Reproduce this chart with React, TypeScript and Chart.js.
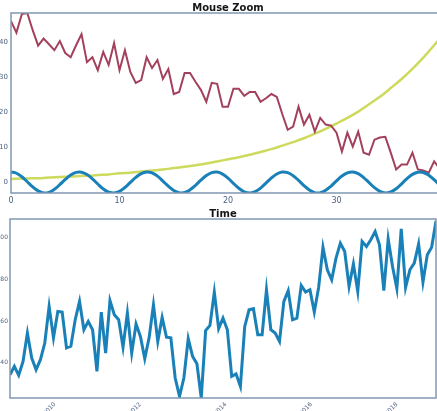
import { useEffect, useRef } from "react";
import { Chart, registerables } from "chart.js";

Chart.register(...registerables);

const TOP_TITLE = "Mouse Zoom";
const BOTTOM_TITLE = "Time";

// Top panel: noisy declining series (x step 0.5)
const RED_STEP = 0.5;
const RED_VALUES = [
  46, 42.7, 48, 48.3, 43.4, 39, 41, 39.4, 37.7, 40.3,
  36.9, 35.7, 39.1, 42.3, 34.3, 35.7, 32, 37.2, 33.5, 39.7,
  32, 37.7, 31.5, 28.4, 29.2, 35.7, 32.6, 34.9, 29.5, 32.3,
  25.2, 25.8, 31.2, 31.2, 28.7, 26.4, 23, 28.4, 28.1, 21.6,
  21.6, 26.7, 26.7, 24.7, 25.8, 25.8, 23, 24, 25.2, 24.4,
  19.5, 15, 15.9, 21.6, 16.5, 19.3, 14.5, 18.4, 16.5, 16.2,
  14.2, 8.8, 14.2, 10.2, 14.5, 8.5, 7.9, 12.2, 12.8, 13,
  8.5, 3.7, 5.1, 5.1, 8.5, 3.7, 3.4, 2.8, 6, 4,
];

// Top panel: rising curve (x step 1)
const YELLOW_STEP = 1;
const YELLOW_VALUES = [
  1.0, 1.1, 1.2, 1.3, 1.5, 1.6, 1.8, 1.9, 2.1, 2.3,
  2.6, 2.8, 3.1, 3.4, 3.7, 4.1, 4.5, 4.9, 5.4, 6.0,
  6.6, 7.2, 7.9, 8.7, 9.5, 10.5, 11.5, 12.6, 13.9, 15.3,
  16.8, 18.4, 20.2, 22.3, 24.4, 26.9, 29.5, 32.4, 35.6, 39.1,
  43,
];

// Top panel: oscillating wave (x step 0.5)
const BLUE_STEP = 0.5;
const BLUE_VALUES = [
  3.0, 2.63, 1.62, 0.21, -1.25, -2.4, -2.97, -2.81, -1.96, -0.63,
  0.85, 2.13, 2.88, 2.93, 2.26, 1.04, -0.44, -1.82, -2.73, -2.99,
  -2.52, -1.43, 0.01, 1.44, 2.53, 2.99, 2.73, 1.81, 0.41, -1.06,
  -2.28, -2.93, -2.87, -2.1, -0.83, 0.65, 1.98, 2.82, 2.97, 2.38,
  1.22, -0.24, -1.65, -2.66, -3.0, -2.59, -1.6, -0.17, 1.27, 2.42,
  2.97, 2.79, 1.94, 0.6, -0.88, -2.15, -2.89, -2.92, -2.24, -1.02,
  0.46, 1.84, 2.74, 2.99, 2.5, 1.4, -0.04, -1.47, -2.54, -2.99,
  -2.71, -1.79, -0.38, 1.09, 2.3, 2.94, 2.86, 2.08, 0.8, -0.68,
  -2.0,
];

const TOP_X_TICKS = [0, 10, 20, 30, 40];
const TOP_Y_TICKS = [0, 10, 20, 30, 40];

// Bottom panel: time series
const TIME_START = 2008.95;
const TIME_STEP = 0.1017;
const TIME_VALUES = [
  34.2, 38.2, 33.9, 40.6, 54.2, 42.2, 36.6, 41.4, 49.4, 67,
  51.9, 64.6, 64.3, 47.1, 47.9, 60.6, 69.4, 55.8, 59.8, 55.8,
  35.8, 64.3, 44.6, 69.8, 63, 60.6, 47.4, 63.8, 44.6, 58.6,
  52.6, 41.9, 51.9, 67.8, 50.2, 61.7, 52.2, 51.9, 32.6, 23.8,
  32.6, 51.5, 43, 39.4, 23, 55.4, 57.9, 73.9, 56.3, 61.4,
  55.8, 33.4, 34.6, 28.6, 57.4, 65.4, 65.9, 53.4, 53.4, 75,
  55.8, 54.2, 50.2, 69.4, 74.6, 60.6, 61.4, 77.1, 73.9, 75,
  64.3, 76.1, 95.4, 84.6, 79.8, 90.2, 97.4, 93.4, 76.6, 87.4,
  74.2, 98.2, 95.8, 99, 103, 96.6, 74.6, 99.4, 86.2, 75.5,
  104.3, 76.1, 84.6, 87.8, 97, 78.7, 91.8, 95.4, 108,
];
const TIME_TICKS = [2010, 2012, 2014, 2016, 2018];
const TIME_TICK_LABELS = ["2010", "2012", "2014", "2016", "2018"];
const TIME_Y_TICKS = [40, 60, 80, 100];

const RED = "#a3405c";
const YELLOW = "#cdda5c";
const BLUE = "#1a80b8";
const SPINE = "#8196b3";
const TICK_TEXT = "#4f6282";
const FONT = "'DejaVu Sans', sans-serif";

const framePlugin = {
  id: "frameTitle",
  afterDatasetsDraw(chart: any, _args: any, opts: any) {
    const { ctx, chartArea: a } = chart;
    ctx.save();
    ctx.strokeStyle = SPINE;
    ctx.lineWidth = 1.5;
    ctx.strokeRect(a.left, a.top, a.right - a.left, a.bottom - a.top);
    ctx.fillStyle = "#151515";
    ctx.font = `bold ${opts.size}px ${FONT}`;
    ctx.textAlign = "center";
    ctx.textBaseline = "alphabetic";
    ctx.fillText(opts.text, (a.left + a.right) / 2, a.top - opts.gap);
    ctx.restore();
  },
};

function topConfig(): any {
  return {
    type: "line",
    data: {
      datasets: [
        {
          data: BLUE_VALUES.map((v, i) => ({ x: i * BLUE_STEP, y: v })),
          borderColor: BLUE,
          borderWidth: 3,
          pointRadius: 0,
          tension: 0.4,
        },
        {
          data: RED_VALUES.map((v, i) => ({ x: i * RED_STEP, y: v })),
          borderColor: RED,
          borderWidth: 2,
          pointRadius: 0,
          tension: 0,
        },
        {
          data: YELLOW_VALUES.map((v, i) => ({ x: i * YELLOW_STEP, y: v })),
          borderColor: YELLOW,
          borderWidth: 2.5,
          pointRadius: 0,
          tension: 0.4,
        },
      ],
    },
    options: {
      animation: false,
      responsive: false,
      devicePixelRatio: 1,
      layout: { padding: { top: 13, right: 15, left: 0, bottom: 0 } },
      plugins: {
        legend: { display: false },
        tooltip: { enabled: false },
        frameTitle: { text: TOP_TITLE, size: 10, gap: 2 },
      },
      scales: {
        x: {
          type: "linear",
          min: 0,
          max: 40,
          afterBuildTicks: (s: any) => {
            s.ticks = TOP_X_TICKS.map((v) => ({ value: v }));
          },
          afterFit: (s: any) => {
            s.height = 17;
          },
          grid: { display: false, drawTicks: false },
          border: { display: false },
          ticks: {
            color: TICK_TEXT,
            font: { family: FONT, size: 8 },
            padding: 3,
            maxRotation: 0,
            minRotation: 0,
          },
        },
        y: {
          type: "linear",
          min: -3,
          max: 48.3,
          afterBuildTicks: (s: any) => {
            s.ticks = TOP_Y_TICKS.map((v) => ({ value: v }));
          },
          afterFit: (s: any) => {
            s.width = 11;
          },
          grid: { display: false, drawTicks: false },
          border: { display: false },
          ticks: {
            color: TICK_TEXT,
            font: { family: FONT, size: 7 },
            padding: 3,
          },
        },
      },
    },
    plugins: [framePlugin],
  };
}

function bottomConfig(): any {
  return {
    type: "line",
    data: {
      datasets: [
        {
          data: TIME_VALUES.map((v, i) => ({ x: TIME_START + i * TIME_STEP, y: v })),
          borderColor: BLUE,
          borderWidth: 3,
          pointRadius: 0,
          tension: 0,
        },
      ],
    },
    options: {
      animation: false,
      responsive: false,
      devicePixelRatio: 1,
      layout: { padding: { top: 14, right: 1, left: 0, bottom: 0 } },
      plugins: {
        legend: { display: false },
        tooltip: { enabled: false },
        frameTitle: { text: BOTTOM_TITLE, size: 10, gap: 2 },
      },
      scales: {
        x: {
          type: "linear",
          min: TIME_START,
          max: TIME_START + (TIME_VALUES.length - 1) * TIME_STEP,
          afterBuildTicks: (s: any) => {
            s.ticks = TIME_TICKS.map((v) => ({ value: v }));
          },
          afterFit: (s: any) => {
            s.height = 13;
          },
          grid: { display: false, drawTicks: false },
          border: { display: false },
          ticks: {
            color: TICK_TEXT,
            font: { family: FONT, size: 6 },
            padding: 3,
            maxRotation: 45,
            minRotation: 45,
            callback: (v: number) => {
              const k = TIME_TICKS.indexOf(v);
              return k >= 0 ? TIME_TICK_LABELS[k] : "";
            },
          },
        },
        y: {
          type: "linear",
          min: 23,
          max: 109,
          afterBuildTicks: (s: any) => {
            s.ticks = TIME_Y_TICKS.map((v) => ({ value: v }));
          },
          afterFit: (s: any) => {
            s.width = 10;
          },
          grid: { display: false, drawTicks: false },
          border: { display: false },
          ticks: {
            color: TICK_TEXT,
            font: { family: FONT, size: 6 },
            padding: 2,
          },
        },
      },
    },
    plugins: [framePlugin],
  };
}

export default function App() {
  const topRef = useRef<HTMLCanvasElement>(null);
  const botRef = useRef<HTMLCanvasElement>(null);

  useEffect(() => {
    const top = new Chart(topRef.current as HTMLCanvasElement, topConfig());
    const bot = new Chart(botRef.current as HTMLCanvasElement, bottomConfig());
    return () => {
      top.destroy();
      bot.destroy();
    };
  }, []);

  return (
    <div
      style={{
        position: "fixed",
        left: 0,
        top: 0,
        width: 437,
        height: 411,
        overflow: "hidden",
        background: "#ffffff",
      }}
    >
      <canvas
        ref={topRef}
        width={460}
        height={210}
        style={{ position: "absolute", left: 0, top: 0, width: 460, height: 210 }}
      />
      <canvas
        ref={botRef}
        width={437}
        height={206}
        style={{ position: "absolute", left: 0, top: 205, width: 437, height: 206 }}
      />
    </div>
  );
}
